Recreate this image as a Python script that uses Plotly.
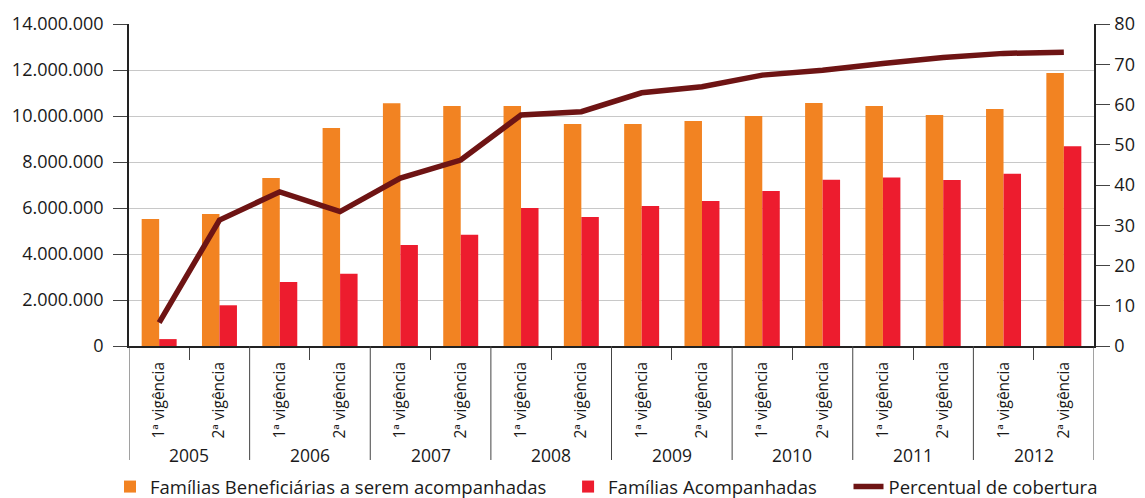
import plotly.graph_objects as go

years = ["2005", "2006", "2007", "2008", "2009", "2010", "2011", "2012"]
periods = ["1ª vigência", "2ª vigência"]

beneficiarias = [5520000, 5740000, 7300000, 9480000, 10550000, 10430000, 10430000, 9650000,
                 9650000, 9780000, 10000000, 10570000, 10430000, 10040000, 10300000, 11870000]
acompanhadas = [300000, 1770000, 2780000, 3140000, 4390000, 4840000, 6000000, 5610000,
                6090000, 6300000, 6740000, 7230000, 7330000, 7220000, 7490000, 8680000]
cobertura = [5.8, 31.3, 38.3, 33.4, 41.7, 46.2, 57.4, 58.2,
             62.9, 64.4, 67.3, 68.5, 70.2, 71.7, 72.7, 73.0]

n_per = len(periods)
x_periods = [p for _ in years for p in periods]
idx = list(range(len(x_periods)))

FONT = "Open Sans"
TXT = "#1a1a1a"
AX = "#444"

fig = go.Figure()
fig.add_trace(go.Bar(x=idx, y=beneficiarias, name="Famílias Beneficiárias a serem acompanhadas",
                     marker=dict(color="#F28322", line=dict(width=0)), legend="legend"))
fig.add_trace(go.Bar(x=idx, y=acompanhadas, name="Famílias Acompanhadas",
                     marker=dict(color="#ED1C2E", line=dict(width=0)), legend="legend2"))
fig.add_trace(go.Scatter(x=idx, y=cobertura, name="Percentual de cobertura", yaxis="y2",
                         mode="lines", line=dict(color="#6E1414", width=5.5),
                         legend="legend3"))

# year group dividers and labels
for i, yr in enumerate(years):
    left = i * n_per - 0.5
    fig.add_shape(type="line", xref="x", yref="paper", x0=left, x1=left, y0=0, y1=-0.354,
                  line=dict(color=AX, width=1))
    fig.add_annotation(x=left + n_per / 2, xref="x", y=-0.3385, yref="paper",
                       text=yr, showarrow=False, yanchor="middle",
                       font=dict(size=17.5, color=TXT, family=FONT))
fig.add_shape(type="line", xref="x", yref="paper", x0=len(idx) - 0.5, x1=len(idx) - 0.5,
              y0=0, y1=-0.354, line=dict(color=AX, width=1))

leg_common = dict(orientation="h", xanchor="left", y=-0.438, yanchor="middle",
                  font=dict(size=18.5, color=TXT), itemwidth=30, bgcolor="rgba(0,0,0,0)")

fig.update_layout(
    width=1165, height=520,
    margin=dict(l=121, r=79, t=16, b=182),
    plot_bgcolor="white", paper_bgcolor="white",
    separators=",.",
    font=dict(family=FONT, size=16, color=TXT),
    barmode="group", bargap=0.42, bargroupgap=0,
    showlegend=True,
    legend=dict(x=-0.0197, **leg_common),
    legend2=dict(x=0.455, **leg_common),
    legend3=dict(x=0.7456, **leg_common),
    xaxis=dict(range=[-0.5, len(idx) - 0.5], tickmode="array", tickvals=idx, ticktext=x_periods,
               showline=True, linecolor="#222", linewidth=1.5,
               ticks="outside", ticklen=8, tickcolor="rgba(0,0,0,0)", tickangle=-90,
               minor=dict(tickmode="linear", tick0=0.5, dtick=n_per, ticks="outside",
                          ticklen=12, tickcolor=AX, tickwidth=1, showgrid=False),
               tickfont=dict(size=15.5, color=TXT), showgrid=False, zeroline=False,
               automargin=False),
    yaxis=dict(range=[0, 14000000], dtick=2000000, tickformat=",d",
               showline=True, linecolor="#222", linewidth=1.5,
               ticks="outside", ticklen=14, tickcolor=AX, ticklabelstandoff=6,
               showgrid=True, gridcolor="#C8C8C8", gridwidth=1,
               zeroline=False, tickfont=dict(size=18, color=TXT), automargin=False),
    yaxis2=dict(range=[0, 80], dtick=10, overlaying="y", side="right",
                showline=True, linecolor="#222", linewidth=1.5,
                ticks="outside", ticklen=14, tickcolor=AX, ticklabelstandoff=1,
                showgrid=False, zeroline=False, tickfont=dict(size=18, color=TXT),
                automargin=False),
)

fig.write_html("out.html")
